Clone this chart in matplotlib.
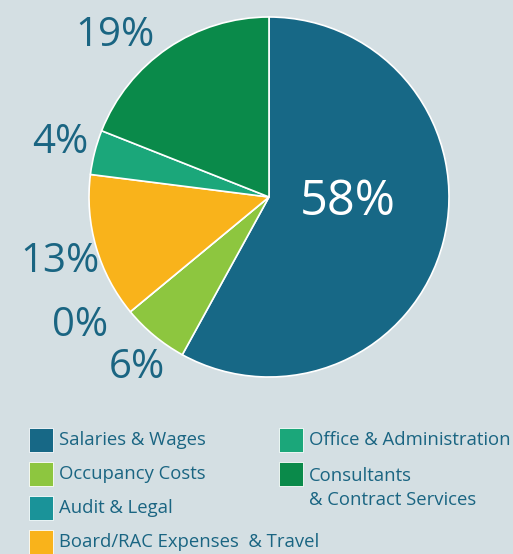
import matplotlib.pyplot as plt
from matplotlib.patches import Rectangle

# data
categories = ['Salaries & Wages', 'Occupancy Costs', 'Audit & Legal',
              'Board/RAC Expenses  & Travel', 'Office & Administration',
              'Consultants\n& Contract Services']
values = [58, 6, 0, 13, 4, 19]
labels = ['58%', '6%', '0%', '13%', '4%', '19%']
colors = ['#176886', '#8dc63f', '#1a9399', '#f9b31b', '#1ba77a', '#0a8a4a']

BG = '#d4dfe3'
TXT = '#1a6582'
W, H = 513, 554

plt.rcParams['font.family'] = ['Open Sans', 'DejaVu Sans']

fig = plt.figure(figsize=(W / 100, H / 100), dpi=100, facecolor=BG)
ax = fig.add_axes([0, 0, 1, 1])
ax.set_facecolor(BG)

# pie in pixel coordinates (y up)
cx, cy, r = 269, H - 197, 180
ax.pie(values, colors=colors, startangle=90, counterclock=False,
       center=(cx, cy), radius=r, frame=True,
       wedgeprops=dict(edgecolor='white', linewidth=1.2))
ax.set_xlim(0, W)
ax.set_ylim(0, H)
ax.set_aspect('equal')
ax.axis('off')

# percentage labels (x, y from top)
label_pos = [(348, 202), (137, 368), (80, 326), (60, 262), (60, 143), (115, 36)]
for lab, (x, y) in zip(labels, label_pos):
    big = lab == '58%'
    ax.text(x, H - y, lab, fontsize=35 if big else 29,
            color='white' if big else TXT, ha='center', va='center')

# legend
legend_pos = [(29, 440), (29, 474), (29, 508), (29, 542), (279, 440), (279, 474)]
for name, col, (x, y) in zip(categories, colors, legend_pos):
    ax.add_patch(Rectangle((x, H - y - 12), 24, 24, facecolor=col,
                           edgecolor='white', linewidth=0.6))
    ty = y + 14 if '\n' in name else y
    ax.text(x + 30, H - ty, name, fontsize=13.3, color=TXT, ha='left',
            va='center', linespacing=1.4)

fig.savefig('out.png', dpi=100, facecolor=BG)
